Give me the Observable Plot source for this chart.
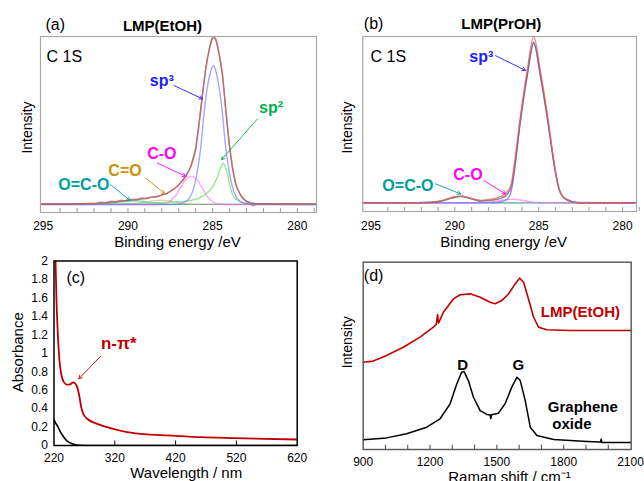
<!DOCTYPE html>
<html><head><meta charset="utf-8">
<script src="https://cdn.jsdelivr.net/npm/d3@7"></script>
<script src="https://cdn.jsdelivr.net/npm/@observablehq/plot@0.6"></script>
<style>
html,body{margin:0;padding:0;background:#fff;}
#fig{position:relative;width:644px;height:481px;overflow:hidden;background:#fff;}
</style></head><body><div id="fig"></div>
<script>
// ---------- (a) XPS C 1s, LMP(EtOH) : [binding energy eV, intensity a.u.] ----------
const xpsTicks = [295, 290, 285, 280];
const xpsMinor = [294,293,292,291,290,289,288,287,286,285,284,283,282,281,280,279];
const aMeasured = [[295.1,0.3],[293,0.3],[292.2,0.6],[291.9,0.4],[291.6,1.6],[291.3,0.9],[291.0,2.0],[290.7,1.5],[290.4,2.6],[290.1,2.1],[289.8,3.2],[289.5,2.7],[289.2,3.9],[288.9,3.3],[288.6,4.5],[288.3,4.3],[288.0,5.6],[287.7,6.5],[287.4,8.5],[287.1,10.6],[286.9,13],[286.6,16.8],[286.3,22],[286.0,34],[285.8,49],[285.6,66],[285.4,82],[285.2,93],[285.05,99],[284.93,100],[284.8,98.5],[284.62,90],[284.42,77.5],[284.23,57],[284.03,37],[283.83,22],[283.64,12],[283.34,5.2],[282.94,1.2],[282.6,-0.9],[282.35,0.4],[281,0.3],[278.9,0.2]];
const aFit = [[295.1,0.2],[292,0.6],[291,1.3],[290,2.4],[289,3.6],[288.3,4.8],[287.7,6.6],[287.2,9.8],[286.9,12.8],[286.6,16.5],[286.3,22.5],[286.0,33],[285.8,48],[285.6,65],[285.4,81],[285.2,92],[285.05,98],[284.93,99.5],[284.8,97.5],[284.62,89.5],[284.42,77],[284.23,57],[284.03,37],[283.83,22],[283.64,12.5],[283.34,5.4],[282.94,1.6],[282.35,0.4],[281,0.2],[278.9,0.2]];
const aSp3 = [[295.1,0],[287.5,0],[286.79,0.8],[286.4,3.4],[286.1,10.3],[285.9,20],[285.7,34],[285.51,54],[285.31,69.8],[285.12,79],[284.96,82.7],[284.8,79],[284.62,69.8],[284.42,54],[284.23,34],[284.03,20],[283.83,10.3],[283.54,3.4],[283.14,0.8],[282.5,0],[278.9,0]];
const aSp2 = [[295.1,0.1],[291,0.4],[289,0.8],[287.5,1.3],[286.3,2.4],[285.51,5.4],[285.01,10.3],[284.72,16.3],[284.52,22],[284.39,24.6],[284.26,22.5],[284.13,18.3],[283.93,9.3],[283.74,4.3],[283.34,1.4],[282.8,0.4],[281.5,0.1],[278.9,0]];
const aCO = [[295.1,0],[288.6,0],[287.8,0.6],[287.5,2],[287.2,5],[286.9,10],[286.6,14.5],[286.22,16.7],[285.9,14.5],[285.6,9.5],[285.3,4.5],[285.0,1.6],[284.7,0.4],[284.2,0],[278.9,0]];
const aCdO = [[295.1,0],[290.5,0],[289.6,0.4],[289.0,1.3],[288.4,2.3],[288.0,2.6],[287.6,2.3],[287.0,1.1],[286.4,0.3],[285.8,0],[278.9,0]];
const aOCO = [[295.1,0],[291.8,0],[291.2,0.5],[290.6,1.3],[290.0,2.0],[289.6,2.2],[289.2,1.9],[288.6,1.0],[288.0,0.3],[287.4,0],[278.9,0]];
const aLabels = [
  {text:"sp³", x:288.0, y:73.8, color:"#2020f0"},
  {text:"sp²", x:281.55, y:57.3, color:"#00b050"},
  {text:"C-O", x:288.0, y:29.9, color:"#ff00ff"},
  {text:"C=O", x:290.17, y:20.2, color:"#c8920a"},
  {text:"O=C-O", x:292.6, y:11.7, color:"#009e9e"}
];
const aArrows = [
  {x1:287.29, y1:70.8, x2:285.6, y2:62.9, color:"#2020f0"},
  {x1:282.35, y1:51, x2:284.48, y2:26.6, color:"#00b050"},
  {x1:288.26, y1:24.6, x2:286.59, y2:16.8, color:"#ff00ff"},
  {x1:288.9, y1:15.3, x2:287.83, y2:6.4, color:"#c8920a"},
  {x1:291.02, y1:11.7, x2:289.88, y2:2.4, color:"#009e9e"}
];

// ---------- (b) XPS C 1s, LMP(PrOH) ----------
const bMeasured = [[295.5,0],[292.5,0.1],[291.5,0.3],[290.9,1],[290.4,2.6],[290.0,3.7],[289.66,4.1],[289.2,3.3],[288.8,2.1],[288.45,1.5],[288.0,2],[287.5,3],[287.2,4.2],[286.98,5.6],[286.64,11.4],[286.43,25.4],[286.13,49.5],[285.69,79.5],[285.3,100],[284.9,79.5],[284.43,49.5],[284.1,25.4],[283.86,11.4],[283.5,3],[283.0,0.8],[282.5,0.2],[279.2,0]];
const bFit = [[295.5,0],[292.5,0.1],[291.5,0.3],[290.9,0.9],[290.4,2.3],[290.0,3.4],[289.66,3.9],[289.2,3.1],[288.8,1.9],[288.45,1.2],[288.0,1.4],[287.5,2.1],[287.2,3],[286.98,4.2],[286.64,9.5],[286.43,22.5],[286.13,47],[285.69,77],[285.3,96.5],[284.9,77],[284.43,47.5],[284.1,24.5],[283.86,11],[283.5,3],[283.0,0.7],[282.5,0.1],[279.2,0]];
const bSp3 = [[295.5,0],[287.6,0],[287.2,0.8],[286.9,2],[286.64,7],[286.43,20],[286.13,46],[285.69,76],[285.3,95.8],[284.9,76],[284.43,47],[284.1,24],[283.86,11],[283.5,3],[283.0,0.6],[282.5,0],[279.2,0]];
const bCO = [[295.5,0],[288.5,0],[288.0,0.3],[287.5,1],[287.0,1.9],[286.6,2.2],[286.2,1.9],[285.7,1],[285.2,0.3],[284.7,0],[279.2,0]];
const bOCO = [[295.5,0],[291.5,0],[291.0,0.5],[290.5,1.8],[290.1,3.2],[289.66,3.8],[289.2,3.0],[288.8,1.7],[288.4,0.6],[287.9,0.1],[287.0,0],[279.2,0]];
const bLabels = [
  {text:"sp³", x:288.42, y:87.6, color:"#2020f0"},
  {text:"C-O", x:289.22, y:17, color:"#ff00ff"},
  {text:"O=C-O", x:292.8, y:10, color:"#009e9e"}
];
const bArrows = [
  {x1:287.58, y1:88.5, x2:285.79, y2:79.6, color:"#2020f0"},
  {x1:288.27, y1:13.4, x2:286.98, y2:5.4, color:"#ff00ff"},
  {x1:291.15, y1:11.4, x2:289.66, y2:5.4, color:"#009e9e"}
];

// ---------- (c) UV-vis absorbance : [wavelength nm, absorbance] ----------
const uvXTicks = [220, 320, 420, 520, 620];
const uvYTicks = [0, 0.2, 0.4, 0.6, 0.8, 1, 1.2, 1.4, 1.6, 1.8, 2];
const cLMP = [[221.5,2.4],[222.5,2.0],[224.1,1.57],[226.3,1.21],[229,0.92],[231.8,0.78],[236.2,0.687],[241.7,0.659],[247.1,0.665],[251,0.684],[254.2,0.676],[258.2,0.633],[262,0.524],[264.7,0.416],[268,0.344],[274.6,0.29],[291,0.235],[312.9,0.188],[340.4,0.145],[373.3,0.12],[406.2,0.109],[461,0.09],[515.7,0.08],[620,0.065]];
const cGO = [[220,0.28],[222,0.25],[225.3,0.217],[230.7,0.145],[236.2,0.09],[241.7,0.047],[249.9,0.018],[258.2,0.005],[270,0],[620,0]];
const cLabel = [{text:"n-π*", x:326.6, y:1.107}];
const cArrow = [{x1:296.5, y1:0.966, x2:260.8, y2:0.724}];

// ---------- (d) Raman : [Raman shift cm-1, intensity a.u.] ----------
const ramanTicks = [900, 1200, 1500, 1800, 2100];
const ramanMinor = [1000,1100,1200,1300,1400,1500,1600,1700,1800,1900,2000];
const dLMP = [[900,46.6],[945,47.2],[1005,50.2],[1080,54.6],[1155,60],[1215,65.3],[1228,66.8],[1234,72],[1238,67.5],[1260,73.3],[1305,80.4],[1335,82.6],[1380,83.1],[1425,81.3],[1470,78.6],[1492,77.8],[1522,79.5],[1552,83],[1582,88.4],[1602,91.5],[1620,89.3],[1642,80.4],[1665,70.6],[1687,65.3],[1725,63.9],[1830,63.5],[1980,63.5],[2100,63.5]];
const dGO = [[900,5.2],[1005,6.2],[1095,8.4],[1185,11.9],[1245,16.4],[1290,24.4],[1320,35],[1342,41.3],[1353,41.6],[1372,36.8],[1395,27.9],[1425,20.8],[1455,18.7],[1470,18.4],[1473,16.5],[1476,18.6],[1507,19.4],[1537,24.4],[1567,33.3],[1590,38.6],[1605,36.8],[1627,26.2],[1650,11.9],[1680,7.5],[1755,5.3],[1905,4.3],[1965,4.0],[1968,5.5],[1971,3.8],[2100,3.7]];
const dLabels = [
  {text:"LMP(EtOH)", x:1875, y:73.3, color:"#c00000"},
  {text:"D", x:1347, y:45, color:"#000"},
  {text:"G", x:1596, y:45, color:"#000"},
  {text:"Graphene", x:1886, y:22.8, color:"#000"},
  {text:"oxide", x:1837, y:13.7, color:"#000"}
];

// ---------- drawing ----------
const FONT = "Liberation Sans, Arial, Helvetica, sans-serif";
const fig = document.getElementById("fig");
const style = {fontFamily: FONT, fontSize: "12px", color: "#000", background: "transparent", overflow: "visible"};
const L = {x: d => d[0], y: d => d[1], curve: "monotone-x"};
function place(svg, left, top) {
  svg.style.position = "absolute";
  svg.style.left = left + "px";
  svg.style.top = top + "px";
  svg.style.maxWidth = "none";
  fig.append(svg);
}
const txt = (s, o) => Plot.text([s], {text: d => d, fontFamily: FONT, fill: "#000", ...o});
const vlabel = (s, o) => txt(s, {frameAnchor: "left", rotate: -90, textAnchor: "middle", lineAnchor: "middle", ...o});

// (a)
place(Plot.plot({
  width: 322, height: 250, marginLeft: 40, marginRight: 6, marginTop: 36, marginBottom: 38,
  x: {domain: [295.16, 278.87], ticks: xpsTicks, tickSize: 0, tickPadding: 9, label: null},
  y: {domain: [-4.8, 100], axis: null},
  color: {type: "identity"},
  style,
  marks: [
    Plot.ruleY([0], {stroke: "#8fae9e", strokeWidth: 1}),
    Plot.line(aOCO, {...L, stroke: "#30b0b0", strokeOpacity: 0.6, strokeWidth: 1.3}),
    Plot.line(aCdO, {...L, stroke: "#c8a040", strokeOpacity: 0.5, strokeWidth: 1.3}),
    Plot.line(aCO, {...L, stroke: "#ff66ff", strokeOpacity: 0.6, strokeWidth: 1.4}),
    Plot.line(aSp2, {...L, stroke: "#66e066", strokeOpacity: 0.7, strokeWidth: 1.4}),
    Plot.line(aSp3, {...L, stroke: "#7777ff", strokeOpacity: 0.65, strokeWidth: 1.4}),
    Plot.line(aFit, {...L, stroke: "#707070", strokeOpacity: 0.8, strokeWidth: 1.5}),
    Plot.line(aMeasured, {...L, curve: "linear", stroke: "#e05555", strokeOpacity: 0.7, strokeWidth: 1.2}),
    Plot.tickX(xpsMinor, {x: d => d, insetTop: 172, stroke: "#999"}),
    Plot.frame({stroke: "#a8a8a8", strokeWidth: 1.2}),
    Plot.arrow(aArrows, {x1: "x1", y1: "y1", x2: "x2", y2: "y2", stroke: "color", strokeWidth: 0.9, headLength: 6}),
    Plot.text(aLabels, {x: "x", y: "y", text: "text", fill: "color", fontWeight: "bold", fontSize: 16, fontFamily: FONT}),
    txt("(a)", {frameAnchor: "top-left", textAnchor: "start", lineAnchor: "middle", dx: 5, dy: -12, fontSize: 16}),
    txt("LMP(EtOH)", {frameAnchor: "top", lineAnchor: "middle", dx: -16, dy: -10, fontSize: 15, fontWeight: "bold"}),
    txt("C 1S", {frameAnchor: "top-left", textAnchor: "start", lineAnchor: "middle", dx: 6, dy: 20, fontSize: 16}),
    vlabel("Intensity", {dx: -13, dy: 3, fontSize: 14}),
    txt("Binding energy /eV", {frameAnchor: "bottom", lineAnchor: "middle", dx: -1, dy: 29.5, fontSize: 15})
  ]
}), 0, 0);

// (b)
place(Plot.plot({
  width: 322, height: 250, marginLeft: 40.3, marginRight: 8, marginTop: 36, marginBottom: 39,
  x: {domain: [295.49, 279.17], ticks: xpsTicks, tickSize: 0, tickPadding: 10, label: null},
  y: {domain: [-5.2, 100], axis: null},
  color: {type: "identity"},
  style,
  marks: [
    Plot.ruleY([0], {stroke: "#8fae9e", strokeWidth: 1}),
    Plot.line(bOCO, {...L, stroke: "#30b0b0", strokeOpacity: 0.6, strokeWidth: 1.3}),
    Plot.line(bCO, {...L, stroke: "#ff66ff", strokeOpacity: 0.6, strokeWidth: 1.4}),
    Plot.line(bSp3, {...L, stroke: "#6666ff", strokeOpacity: 0.7, strokeWidth: 1.4}),
    Plot.line(bFit, {...L, stroke: "#606060", strokeOpacity: 0.75, strokeWidth: 1.5}),
    Plot.line(bMeasured, {...L, stroke: "#ff5555", strokeOpacity: 0.75, strokeWidth: 1.3}),
    Plot.tickX(xpsMinor, {x: d => d, insetTop: 171, stroke: "#999"}),
    Plot.frame({stroke: "#a8a8a8", strokeWidth: 1.2}),
    Plot.arrow(bArrows, {x1: "x1", y1: "y1", x2: "x2", y2: "y2", stroke: "color", strokeWidth: 0.9, headLength: 6}),
    Plot.text(bLabels, {x: "x", y: "y", text: "text", fill: "color", fontWeight: "bold", fontSize: 16, fontFamily: FONT}),
    txt("(b)", {frameAnchor: "top-left", textAnchor: "start", lineAnchor: "middle", dx: 1, dy: -13, fontSize: 16}),
    txt("LMP(PrOH)", {frameAnchor: "top", lineAnchor: "middle", dx: 1.6, dy: -12, fontSize: 15, fontWeight: "bold"}),
    txt("C 1S", {frameAnchor: "top-left", textAnchor: "start", lineAnchor: "middle", dx: 7.7, dy: 20, fontSize: 16}),
    vlabel("Intensity", {dx: -14.8, dy: 3.5, fontSize: 14}),
    txt("Binding energy /eV", {frameAnchor: "bottom", lineAnchor: "middle", dx: 4, dy: 30.5, fontSize: 15})
  ]
}), 322, 0);

// (c)
place(Plot.plot({
  width: 322, height: 231, marginLeft: 53.5, marginRight: 25.3, marginTop: 10.5, marginBottom: 36,
  x: {domain: [220, 620], ticks: uvXTicks, tickSize: 0, tickPadding: 8, label: null},
  y: {domain: [0, 2], ticks: uvYTicks, tickSize: 0, tickPadding: 6, label: null, tickFormat: d => String(+d.toFixed(1))},
  style,
  marks: [
    Plot.line(cGO, {...L, stroke: "#000", strokeWidth: 1.6, clip: true}),
    Plot.line(cLMP, {...L, stroke: "#c00000", strokeWidth: 1.8, clip: true}),
    Plot.tickX(uvXTicks.slice(1, -1), {x: d => d, insetTop: 180, stroke: "#000"}),
    Plot.frame({stroke: "#000", strokeWidth: 1.5}),
    Plot.arrow(cArrow, {x1: "x1", y1: "y1", x2: "x2", y2: "y2", stroke: "#c00000", strokeWidth: 0.9, headLength: 6}),
    Plot.text(cLabel, {x: "x", y: "y", text: "text", fill: "#c00000", fontWeight: "bold", fontSize: 17, fontFamily: FONT}),
    txt("(c)", {frameAnchor: "top-left", textAnchor: "start", lineAnchor: "middle", dx: 12.5, dy: 17, fontSize: 16}),
    vlabel("Absorbance", {dx: -36, dy: -1, fontSize: 15}),
    txt("Wavelength / nm", {frameAnchor: "bottom", lineAnchor: "middle", dx: 10.6, dy: 27.8, fontSize: 15})
  ]
}), 0, 250);

// (d)
place(Plot.plot({
  width: 322, height: 231, marginLeft: 40.7, marginRight: 13.3, marginTop: 11.7, marginBottom: 32,
  x: {domain: [900, 2103], ticks: ramanTicks, tickSize: 0, tickPadding: 8, label: null, tickFormat: d => String(d)},
  y: {domain: [0, 100], axis: null},
  color: {type: "identity"},
  style,
  marks: [
    Plot.line(dGO, {...L, curve: "linear", stroke: "#000", strokeWidth: 1.5}),
    Plot.line(dLMP, {...L, curve: "linear", stroke: "#c00000", strokeWidth: 1.6}),
    Plot.tickX(ramanMinor, {x: d => d, insetTop: 183, stroke: "#444"}),
    Plot.frame({stroke: "#555", strokeWidth: 1.4}),
    Plot.text(dLabels, {x: "x", y: "y", text: "text", fill: "color", fontWeight: "bold", fontSize: 15, fontFamily: FONT}),
    txt("(d)", {frameAnchor: "top-left", textAnchor: "start", lineAnchor: "middle", dx: 0.6, dy: 13.3, fontSize: 16}),
    vlabel("Intensity", {dx: -15.2, dy: -13.6, fontSize: 14}),
    txt("Raman shift / cm⁻¹", {frameAnchor: "bottom", lineAnchor: "middle", dx: 12.3, dy: 27.5, fontSize: 15})
  ]
}), 322, 250);
</script></body></html>
